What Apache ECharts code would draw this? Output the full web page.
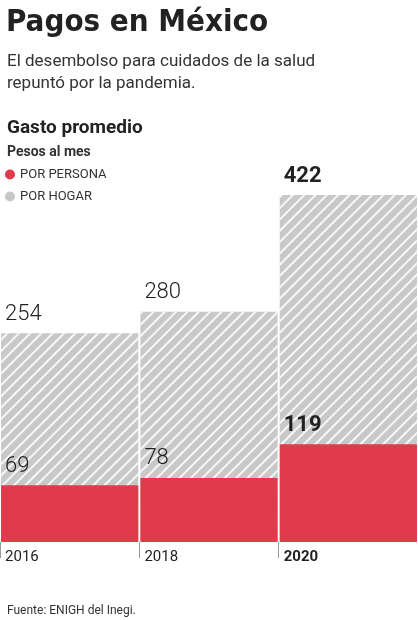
<!DOCTYPE html>
<html><head><meta charset="utf-8">
<script src="https://cdn.jsdelivr.net/npm/echarts@6/dist/echarts.min.js"></script>
<style>body{margin:0;background:#fff}#c{width:418px;height:620px}</style>
</head><body><div id="c"></div>
<script>
const categories = ['2016','2018','2020'];
const porHogar = [254, 280, 422];
const porPersona = [69, 78, 119];
const chart = echarts.init(document.getElementById('c'));
const bold = i => i === 2;
chart.setOption({
  animation:false,
  textStyle:{fontFamily:'Roboto'},
  title:[
    {text:'Pagos en México',left:1,top:2,textStyle:{fontSize:31,fontWeight:'bold',color:'#222',fontFamily:'"Liberation Sans Narrow", "DejaVu Sans Condensed", Roboto'}},
    {text:'El desembolso para cuidados de la salud\nrepuntó por la pandemia.',left:2,top:46,textStyle:{fontSize:17,fontWeight:'normal',color:'#333',lineHeight:22}},
    {text:'Gasto promedio',left:2,top:114,textStyle:{fontSize:19,fontWeight:'bold',color:'#222'}},
    {text:'Pesos al mes',left:2,top:140,textStyle:{fontSize:14,fontWeight:'bold',color:'#333'}},
    {text:'Fuente: ENIGH del Inegi.',left:2,top:600,textStyle:{fontSize:12,fontWeight:'normal',color:'#333'}}
  ],
  legend:{left:0,top:163,orient:'vertical',itemGap:9,itemWidth:10,itemHeight:10,icon:'circle',
    data:['POR PERSONA','POR HOGAR'],textStyle:{fontSize:13,color:'#333'},itemStyle:{decal:'none'}},
  grid:{left:0,right:0,top:131,bottom:78},
  xAxis:{type:'category',data:categories,axisLine:{show:false},axisLabel:{show:false},
    axisTick:{show:true,length:16,lineStyle:{color:'#999'}}},
  yAxis:{type:'value',min:0,max:500,show:false,splitLine:{show:false}},
  series:[
    {name:'POR HOGAR',type:'bar',data:porHogar,barCategoryGap:'1.5%',barGap:'-100%',
      itemStyle:{color:'#c8c8c8',decal:{symbol:'rect',dashArrayX:[1,0],dashArrayY:[1.5,6],rotation:-Math.PI/4,color:'rgba(255,255,255,0.85)'}},
      label:{show:true,position:[4,-30],fontSize:22,color:'#222',fontWeight:300,
        formatter:p=>bold(p.dataIndex)?'{b|'+p.value+'}':String(p.value),rich:{b:{fontSize:22,fontWeight:'bold',color:'#222'}}}},
    {name:'POR PERSONA',type:'bar',data:porPersona,barGap:'-100%',
      itemStyle:{color:'#e03a4b'},
      label:{show:true,position:[4,-30],fontSize:22,color:'#222',fontWeight:300,
        formatter:p=>bold(p.dataIndex)?'{b|'+p.value+'}':String(p.value),rich:{b:{fontSize:22,fontWeight:'bold',color:'#222'}}}},
    {name:'x',type:'bar',data:categories.map(()=>0),barGap:'-100%',silent:true,
      itemStyle:{color:'transparent'},
      label:{show:true,position:[4,8],fontSize:15,color:'#222',
        formatter:p=>bold(p.dataIndex)?'{b|'+p.name+'}':p.name,rich:{b:{fontSize:15,fontWeight:'bold',color:'#222'}}}}
  ]
});
</script></body></html>
